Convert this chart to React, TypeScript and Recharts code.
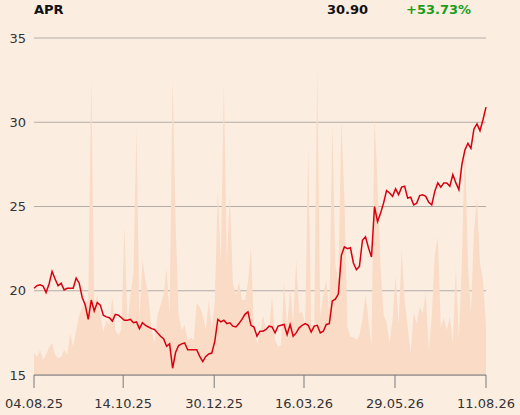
import React from "react"
import { ComposedChart, Line, Area, XAxis, YAxis, CartesianGrid } from "recharts"

const ticker = "APR"
const lastPrice = "30.90"
const change = "+53.73%"

// closing price, one point per sample
const price = [
  20.15, 20.3, 20.35, 20.28, 19.9, 20.4, 21.15, 20.7, 20.3, 20.45,
  20.05, 20.15, 20.15, 20.15, 20.75, 20.45, 19.6, 19.15, 18.3, 19.45,
  18.8, 19.3, 19.15, 18.55, 18.45, 18.4, 18.2, 18.6, 18.55, 18.4,
  18.25, 18.25, 18.3, 18.1, 18.15, 17.75, 18.1, 17.95, 17.85, 17.75,
  17.7, 17.5, 17.3, 17.15, 16.7, 16.85, 15.4, 16.35, 16.75, 16.85,
  16.9, 16.5, 16.5, 16.5, 16.5, 16.1, 15.8, 16.1, 16.25, 16.3,
  17.0, 18.3, 18.15, 18.25, 18.05, 18.1, 17.9, 17.85, 18.05, 18.3,
  18.6, 18.75, 17.95, 17.85, 17.3, 17.6, 17.6, 17.7, 17.9, 17.85,
  17.5, 17.9, 17.95, 18.0, 17.4, 18.0, 17.3, 17.5, 17.8, 17.95,
  18.05, 17.95, 17.55, 17.9, 17.95, 17.5, 17.6, 18.0, 18.05, 19.4,
  19.5, 19.8, 22.1, 22.6, 22.5, 22.55, 21.65, 21.25, 21.45, 23.0,
  23.2, 22.55, 22.0, 25.0, 24.1, 24.6, 25.2, 25.95, 25.8, 25.6,
  26.05, 25.7, 26.15, 26.2, 25.5, 25.55, 25.1, 25.2, 25.65, 25.7,
  25.6, 25.25, 25.1, 25.9, 26.4, 26.15, 26.4, 26.4, 26.2, 26.9,
  26.4, 26.0, 27.5, 28.35, 28.75, 28.45, 29.6, 29.9, 29.5, 30.15,
  30.9,
]

// traded volume (k)
const volume = [
  22, 18, 25, 15, 20, 28, 32, 20, 17, 18,
  25, 20, 42, 28, 45, 60, 68, 72, 75, 297,
  70, 80, 60, 43, 55, 50, 78, 45, 40, 45,
  150, 50, 80, 100, 247, 55, 115, 95, 78, 45,
  32, 60, 70, 80, 107, 60, 298, 150, 60, 45,
  50, 35, 37, 35, 72, 68, 60, 45, 75, 45,
  73, 185, 112, 292, 112, 180, 92, 80, 93, 75,
  75, 92, 128, 45, 32, 40, 60, 45, 45, 80,
  35, 28, 30, 93, 48, 87, 52, 115, 62, 63,
  50, 227, 50, 50, 307, 58, 80, 95, 60, 252,
  110, 95, 255, 177, 48, 38, 38, 35, 40, 55,
  80, 55, 28, 258, 190, 110, 60, 53, 32, 55,
  100, 50, 125, 75, 48, 22, 62, 52, 68, 62,
  82, 25, 58, 120, 138, 48, 57, 45, 58, 32,
  107, 35, 112, 237, 112, 62, 143, 177, 112, 95,
  48,
]

const dateTicks = [0, 29.6, 59.8, 89.6, 119.8, 150]
const dateLabels = ["04.08.25", "14.10.25", "30.12.25", "16.03.26", "29.05.26", "11.08.26"]
const priceTicks = [15, 20, 25, 30, 35]

const data = price.map((p, i) => ({ i, price: p, volume: volume[i] }))

const font = "'DejaVu Sans', sans-serif"

export default function App() {
  return (
    <div style={{ position: "absolute", left: 0, top: 0, width: 520, height: 415, background: "#fcede1", fontFamily: font }}>
      <div style={{ position: "absolute", left: 34, top: 2, fontSize: 13, fontWeight: "bold", color: "#111" }}>{ticker}</div>
      <div style={{ position: "absolute", left: 327, top: 2, fontSize: 13, fontWeight: "bold", color: "#111" }}>{lastPrice}</div>
      <div style={{ position: "absolute", left: 406, top: 2, fontSize: 13, fontWeight: "bold", color: "#1a9e1a" }}>{change}</div>
      <ComposedChart width={520} height={415} data={data} margin={{ top: 38, right: 34, bottom: 0, left: 0 }}>
        <CartesianGrid yAxisId="p" vertical={false} stroke="#b2aca6" />
        <XAxis
          dataKey="i"
          type="number"
          domain={[0, 150]}
          ticks={dateTicks}
          tickFormatter={(v) => dateLabels[dateTicks.indexOf(v)]}
          height={40}
          tickSize={13}
          tickMargin={11}
          stroke="#7a7a7a"
          tick={{ fill: "#333", fontSize: 13, fontFamily: font }}
          interval={0}
        />
        <YAxis
          yAxisId="p"
          domain={[15, 35]}
          ticks={priceTicks}
          width={34}
          axisLine={false}
          tickLine={false}
          tick={{ fill: "#333", fontSize: 13, fontFamily: font }}
        />
        <YAxis yAxisId="v" hide domain={[0, 337]} />
        <Area
          yAxisId="v"
          dataKey="volume"
          type="linear"
          fill="#f9dbc6"
          fillOpacity={1}
          stroke="none"
          isAnimationActive={false}
        />
        <Line
          yAxisId="p"
          dataKey="price"
          type="linear"
          stroke="#d7000f"
          strokeWidth={1.5}
          dot={false}
          isAnimationActive={false}
        />
      </ComposedChart>
    </div>
  )
}
